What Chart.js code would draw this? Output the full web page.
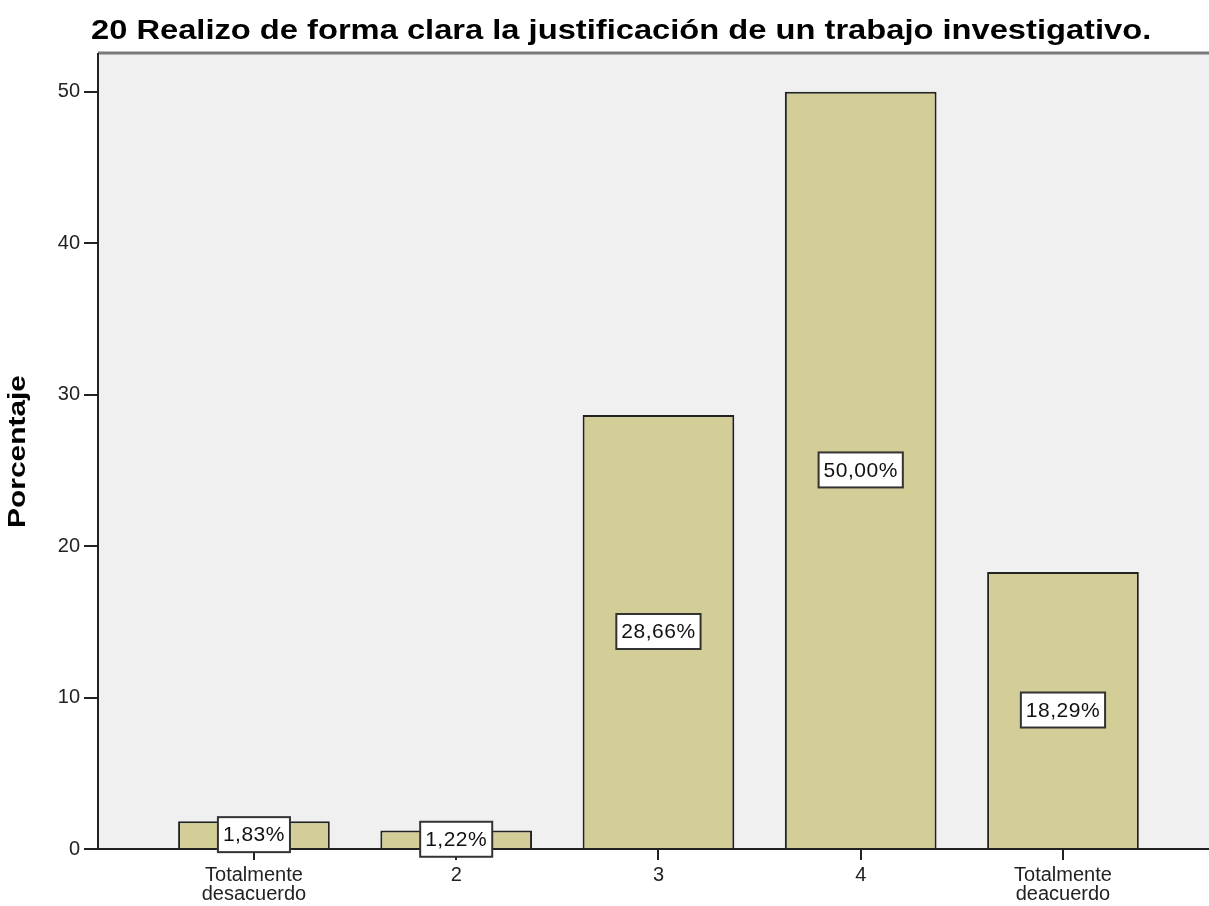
<!DOCTYPE html>
<html>
<head>
<meta charset="utf-8">
<script src="https://cdn.jsdelivr.net/npm/chart.js@4"></script>
<style>
  html, body { margin: 0; padding: 0; background: #fff; }
  #wrap { width: 1209px; height: 906px; }
</style>
</head>
<body>
<div id="wrap"><canvas id="chart"></canvas></div>
<script>
const chartTitle = "20 Realizo de forma clara la justificación de un trabajo investigativo.";
const yTitle = "Porcentaje";
const categories = [["Totalmente", "desacuerdo"], "2", "3", "4", ["Totalmente", "deacuerdo"]];
const categoryIndex = [1, 2, 3, 4, 5];
const percentages = [1.83, 1.22, 28.66, 50.0, 18.29];
const yTicks = [0, 10, 20, 30, 40, 50];

const FONT = "Arial, 'Liberation Sans', sans-serif";

const plotDecor = {
  id: "plotDecor",
  beforeDraw(chart) {
    const { ctx, chartArea: a } = chart;
    ctx.save();
    ctx.fillStyle = "#f0f0f0";
    ctx.fillRect(a.left, a.top, a.right - a.left, a.bottom - a.top);
    ctx.strokeStyle = "#7a7a7a";
    ctx.lineWidth = 3;
    ctx.beginPath();
    ctx.moveTo(a.left, a.top - 1);
    ctx.lineTo(a.right, a.top - 1);
    ctx.stroke();
    ctx.restore();
  },
  afterDraw(chart) {
    const { ctx, chartArea: a } = chart;
    // chart title, stretched wide like the SPSS output
    ctx.save();
    ctx.fillStyle = "#000";
    ctx.font = "bold 27px " + FONT;
    ctx.textBaseline = "alphabetic";
    ctx.textAlign = "left";
    ctx.translate(a.left - 7, 39);
    ctx.scale(1.21, 1);
    ctx.fillText(chartTitle, 0, 0);
    ctx.restore();

    // y axis title
    ctx.save();
    ctx.fillStyle = "#000";
    ctx.font = "bold 23px " + FONT;
    ctx.textAlign = "center";
    ctx.textBaseline = "middle";
    ctx.translate(19, (a.top + a.bottom) / 2);
    ctx.rotate(-Math.PI / 2);
    ctx.scale(1.3, 1);
    ctx.fillText(yTitle, 0, 0);
    ctx.restore();
  }
};

const valueLabels = {
  id: "valueLabels",
  afterDatasetsDraw(chart) {
    const { ctx } = chart;
    const meta = chart.getDatasetMeta(0);
    ctx.save();
    ctx.font = "21px " + FONT;
    ctx.letterSpacing = "0.5px";
    ctx.textAlign = "center";
    ctx.textBaseline = "middle";
    meta.data.forEach((bar, i) => {
      const text = percentages[i].toFixed(2).replace(".", ",") + "%";
      const w = ctx.measureText(text).width + 10;
      const h = 35;
      const cx = bar.x;
      const cy = (bar.y + bar.base) / 2;
      ctx.fillStyle = "#fff";
      ctx.fillRect(cx - w / 2, cy - h / 2, w, h);
      ctx.strokeStyle = "#333";
      ctx.lineWidth = 2;
      ctx.strokeRect(cx - w / 2, cy - h / 2, w, h);
      ctx.fillStyle = "#111";
      ctx.fillText(text, cx, cy + 1);
    });
    ctx.restore();
  }
};

new Chart(document.getElementById("chart"), {
  type: "bar",
  data: {
    datasets: [{
      data: categoryIndex.map((x, i) => ({ x: x, y: percentages[i] })),
      backgroundColor: "#d3ce98",
      borderColor: "#222",
      borderWidth: 2,
      barPercentage: 0.75,
      categoryPercentage: 1
    }]
  },
  options: {
    responsive: true,
    maintainAspectRatio: false,
    devicePixelRatio: 1,
    animation: false,
    layout: { padding: { top: 54, left: 0, right: 0, bottom: 0 } },
    plugins: {
      legend: { display: false },
      tooltip: { enabled: false }
    },
    scales: {
      x: {
        type: "linear",
        offset: false,
        min: 0.229,
        max: 5.722,
        afterBuildTicks: (s) => { s.ticks = categoryIndex.map(v => ({ value: v })); },
        afterFit: (s) => { s.height = 57; },
        ticks: {
          callback: (v) => categories[v - 1],
          font: { family: FONT, size: 20, lineHeight: 0.95 },
          color: "#222",
          padding: 6,
          maxRotation: 0
        },
        grid: { offset: false, drawOnChartArea: false, drawTicks: true, tickLength: 11, color: "#222", lineWidth: 2 },
        border: { display: true, color: "#222", width: 2 }
      },
      y: {
        min: 0,
        max: 52.5,
        afterBuildTicks: (s) => { s.ticks = yTicks.map(v => ({ value: v })); },
        afterFit: (s) => { s.width = 98; },
        ticks: {
          font: { family: FONT, size: 20 },
          color: "#222",
          padding: 4
        },
        grid: { drawOnChartArea: false, drawTicks: true, tickLength: 14, color: "#222", lineWidth: 2 },
        border: { display: true, color: "#222", width: 2 }
      }
    }
  },
  plugins: [plotDecor, valueLabels]
});
</script>
</body>
</html>
